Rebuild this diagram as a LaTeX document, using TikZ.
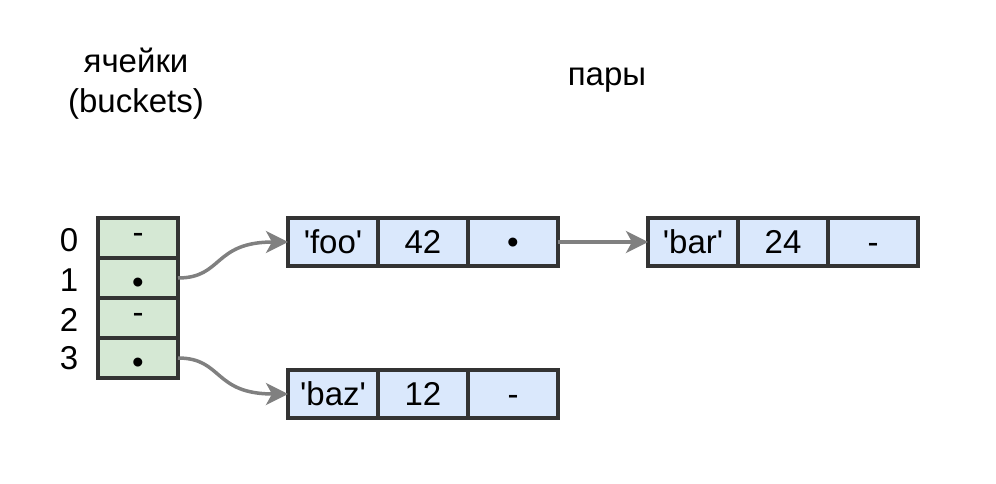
\documentclass[tikz,border=0pt]{standalone}
\usepackage{fontspec}
\setmainfont{Liberation Sans}
\usetikzlibrary{arrows.meta,positioning}
\definecolor{bucketfill}{HTML}{D5E8D4}
\definecolor{pairfill}{HTML}{DAE8FC}
\definecolor{edgegray}{HTML}{333333}
\definecolor{linkgray}{HTML}{808080}
\newcommand{\sq}{\textquotesingle}
\tikzset{
  bucket/.style={draw=edgegray, line width=3.5pt, fill=bucketfill, outer sep=0pt,
    inner sep=0pt, minimum width=80pt, minimum height=40pt},
  fullbucket/.style={bucket, text height=30pt, text depth=0pt},
  paircell/.style={draw=edgegray, line width=3.5pt, fill=pairfill, outer sep=0pt,
    inner sep=0pt, minimum width=90pt, minimum height=48pt,
    text height=23pt, text depth=1pt},
  link/.style={draw=linkgray, line width=3.5pt, -{Stealth[length=22pt,width=22pt,inset=6pt]}}
}

\begin{document}
\begin{tikzpicture}[x=1pt, y=-1pt, font=\fontsize{33}{40}\selectfont]
        \useasboundingbox (0,0) rectangle (996,484);
        % Titles
        \node[align=center] (titleb) at (136,84) {ячейки\\(buckets)};
        \node (titlep) at (607,80) {пары};
        % Buckets
        \node[bucket] (b0) at (138,238) {-};
        \node[fullbucket] (b1) at (138,278) {•};
        \node[bucket] (b2) at (138,318) {-};
        \node[fullbucket] (b3) at (138,358) {•};
        % Bucket indices
        \node (i0) at (69,240) {0};
        \node (i1) at (69,280) {1};
        \node (i2) at (69,320) {2};
        \node (i3) at (69,358) {3};
        % Pairs
        \node[paircell] (foo) at (333,242) {\sq foo\sq};
        \node[paircell, right=0pt of foo] (fooval) {42};
        \node[paircell, right=0pt of fooval] (foonext) {•};
        \node[paircell] (bar) at (693,242) {\sq bar\sq};
        \node[paircell, right=0pt of bar] (barval) {24};
        \node[paircell, right=0pt of barval] (barnext) {-};
        \node[paircell] (baz) at (333,394) {\sq baz\sq};
        \node[paircell, right=0pt of baz] (bazval) {12};
        \node[paircell, right=0pt of bazval] (baznext) {-};
        % Links
        \draw[link] (b1.east) .. controls +(45,0) and +(-75,0) .. (foo.west);
        \draw[link] (b3.east) .. controls +(45,0) and +(-75,0) .. (baz.west);
        \draw[link] (foonext.east) -- (bar.west);
      \end{tikzpicture}
\end{document}
